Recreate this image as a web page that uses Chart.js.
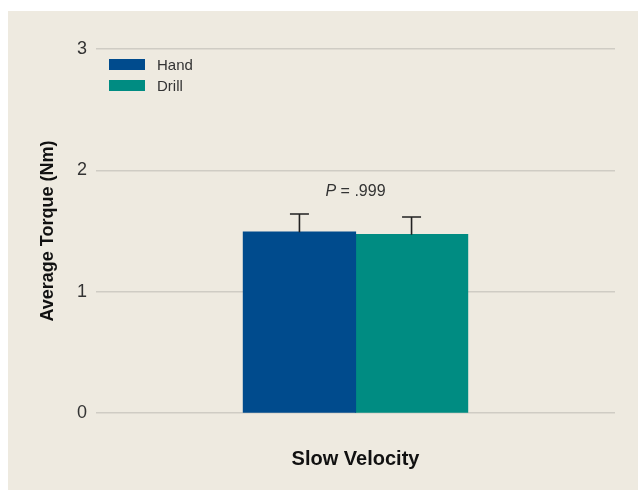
<!DOCTYPE html>
<html>
<head>
<meta charset="utf-8">
<script src="https://cdn.jsdelivr.net/npm/chart.js@4/dist/chart.umd.min.js"></script>
<style>
    html, body { margin: 0; padding: 0; background: #ffffff; }
    #wrap {
        position: absolute; left: 8px; top: 11px;
        width: 630px; height: 479px;
        background: #eeeae0;
    }
</style>
</head>
<body>
<div id="wrap"><canvas id="torque-chart"></canvas></div>
<script>
// Srednie momenty obrotowe, predkosc wolna
const categories = ['Slow Velocity'];
const seriesLabels = ['Hand', 'Drill'];
const handValues = [1.49];
const drillValues = [1.47];
const handErrors = [0.15];
const drillErrors = [0.145];
const pLabels = ['.999'];
const yTickValues = [0, 1, 2, 3];

const COLORS = { hand: '#004b8d', drill: '#008c82', text: '#333333', grid: '#cfccc4' };
const FONT = 'Liberation Sans, Arial, Helvetica, sans-serif';

const errorsByDataset = [handErrors, drillErrors];

// wasy bledow (tylko w gore) + opis P nad kategoria
const errorBarPlugin = {
    id: 'errorBars',
    afterDatasetsDraw(chart) {
        const { ctx, scales: { y } } = chart;
        ctx.save();
        ctx.strokeStyle = '#222222';
        ctx.lineWidth = 1.6;
        const tops = categories.map(() => -Infinity);
        const centers = categories.map(() => 0);
        chart.data.datasets.forEach((dataset, di) => {
            const meta = chart.getDatasetMeta(di);
            meta.data.forEach((bar, i) => {
                const topValue = dataset.data[i] + errorsByDataset[di][i];
                const yTop = y.getPixelForValue(topValue);
                ctx.beginPath();
                ctx.moveTo(bar.x, bar.y);
                ctx.lineTo(bar.x, yTop);
                ctx.moveTo(bar.x - 9.5, yTop);
                ctx.lineTo(bar.x + 9.5, yTop);
                ctx.stroke();
                tops[i] = Math.max(tops[i], topValue);
                centers[i] += bar.x / chart.data.datasets.length;
            });
        });
        ctx.fillStyle = COLORS.text;
        ctx.textBaseline = 'alphabetic';
        categories.forEach((cat, i) => {
            const baseY = y.getPixelForValue(tops[i]) - 18;
            ctx.font = `italic 16px ${FONT}`;
            const pPart = 'P';
            const rest = ' = ' + pLabels[i];
            const w1 = ctx.measureText(pPart).width;
            ctx.font = `16px ${FONT}`;
            const w2 = ctx.measureText(rest).width;
            const startX = centers[i] - (w1 + w2) / 2;
            ctx.font = `italic 16px ${FONT}`;
            ctx.textAlign = 'left';
            ctx.fillText(pPart, startX, baseY);
            ctx.font = `16px ${FONT}`;
            ctx.fillText(rest, startX + w1, baseY);
        });
        ctx.restore();
    }
};

// legenda wewnatrz obszaru wykresu, lewy gorny rog
const insideLegendPlugin = {
    id: 'insideLegend',
    afterDraw(chart) {
        const { ctx, chartArea } = chart;
        ctx.save();
        ctx.font = `15px ${FONT}`;
        ctx.textBaseline = 'middle';
        ctx.textAlign = 'left';
        chart.data.datasets.forEach((dataset, di) => {
            const x = chartArea.left + 13;
            const y = chartArea.top + 10 + di * 21;
            ctx.fillStyle = dataset.backgroundColor;
            ctx.fillRect(x, y, 36, 11);
            ctx.fillStyle = COLORS.text;
            ctx.fillText(dataset.label, x + 48, y + 6.5);
        });
        ctx.restore();
    }
};

new Chart(document.getElementById('torque-chart'), {
    type: 'bar',
    data: {
        labels: categories,
        datasets: [
            { label: seriesLabels[0], data: handValues, backgroundColor: COLORS.hand },
            { label: seriesLabels[1], data: drillValues, backgroundColor: COLORS.drill }
        ]
    },
    options: {
        responsive: true,
        maintainAspectRatio: false,
        animation: false,
        layout: { padding: { top: 38, right: 23, left: 0, bottom: 0 } },
        datasets: { bar: { categoryPercentage: 0.432, barPercentage: 1.0, inflateAmount: 0.6 } },
        plugins: {
            legend: { display: false },
            tooltip: { enabled: false }
        },
        scales: {
            x: {
                grid: { display: false },
                border: { display: false },
                ticks: { display: false },
                title: {
                    display: true,
                    text: categories[0],
                    color: '#111111',
                    font: { family: FONT, size: 20, weight: 'bold' },
                    padding: { top: 0, bottom: 19 }
                },
                afterFit: scale => { scale.height = 77; }
            },
            y: {
                min: 0,
                max: 3,
                afterBuildTicks: scale => { scale.ticks = yTickValues.map(v => ({ value: v })); },
                ticks: {
                    color: COLORS.text,
                    padding: 9,
                    font: { family: FONT, size: 18 }
                },
                grid: { color: COLORS.grid, lineWidth: 1.5, drawTicks: false },
                border: { display: false },
                title: {
                    display: true,
                    text: 'Average Torque (Nm)',
                    color: '#111111',
                    font: { family: FONT, size: 18, weight: 'bold' },
                    padding: { top: 29, bottom: 0 }
                },
                afterFit: scale => { scale.width = 88; }
            }
        }
    },
    plugins: [errorBarPlugin, insideLegendPlugin]
});
</script>
</body>
</html>
